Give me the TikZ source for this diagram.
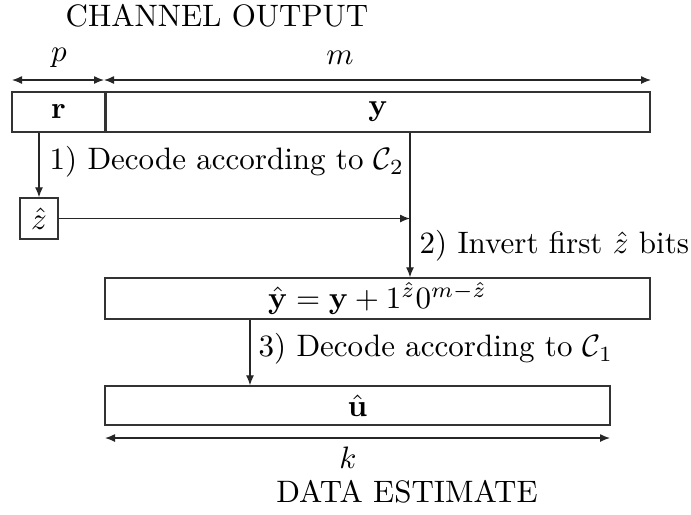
\documentclass[tikz,border=0pt]{standalone}
\usetikzlibrary{arrows.meta}
\newcommand\pxu{0.3226pt}
\begin{document}
\begin{tikzpicture}[x=0.3226pt,y=-0.3226pt,
  box/.style={draw=black!80,line width=1.4*\pxu,inner sep=0pt},
  arr/.style={draw=black!85,line width=1.3*\pxu,-{Latex[length=10*\pxu,width=8*\pxu]}},
  dim/.style={draw=black!85,line width=1.3*\pxu,{Latex[length=10*\pxu,width=8*\pxu]}-{Latex[length=10*\pxu,width=8*\pxu]}},
  lbl/.style={inner sep=0pt}]
\useasboundingbox (0,0) rectangle (691,514);
\node[lbl] (top) at (217,16) {CHANNEL OUTPUT};
\node[box,minimum width=93*\pxu,minimum height=40*\pxu] (r) at (58.5,112) {$\mathbf{r}$};
\node[box,minimum width=544*\pxu,minimum height=40*\pxu] (y) at (378,112) {$\mathbf{y}$};
\node[box,minimum width=38*\pxu,minimum height=41*\pxu] (zh) at (39,218.5) {$\hat z$};
\node[box,minimum width=545*\pxu,minimum height=41*\pxu] (yh) at (377.5,298.5) {$\hat{\mathbf{y}}=\mathbf{y}+1^{\hat z}0^{m-\hat z}$};
\node[box,minimum width=505*\pxu,minimum height=39*\pxu] (uh) at (357.5,405.5) {$\hat{\mathbf{u}}$};
\node[lbl] (bot) at (407,492) {DATA ESTIMATE};
\coordinate (c2) at (410,0);
\coordinate (c3) at (250,0);
% dimension arrows
\coordinate (pl) at (12,80);
\coordinate (pr) at (104,80);
\coordinate (mr) at (651,80);
\draw[dim] (pl) -- (pr);
\draw[dim] (pr) -- (mr);
\node[lbl] (p) at (59,58) {$p$};
\node[lbl] (m) at (340,58) {$m$};
\coordinate (kl) at (105,438);
\coordinate (kr) at (610,438);
\draw[dim] (kl) -- (kr);
\node[lbl] (k) at (348,458) {$k$};
% connectors
\draw[arr] (zh.north |- r.south) -- (zh.north);
\draw[arr] (zh.east) -- (zh.east -| c2);
\draw[arr] (y.south -| c2) -- (yh.north -| c2);
\draw[arr] (yh.south -| c3) -- (uh.north -| c3);
% step labels
\node[lbl,anchor=west] (s1) at (49,162) {1) Decode according to $\mathcal{C}_2$};
\node[lbl,anchor=west] (s2) at (419,246) {2) Invert first $\hat z$ bits};
\node[lbl,anchor=west] (s3) at (258,349) {3) Decode according to $\mathcal{C}_1$};
\end{tikzpicture}
\end{document}
